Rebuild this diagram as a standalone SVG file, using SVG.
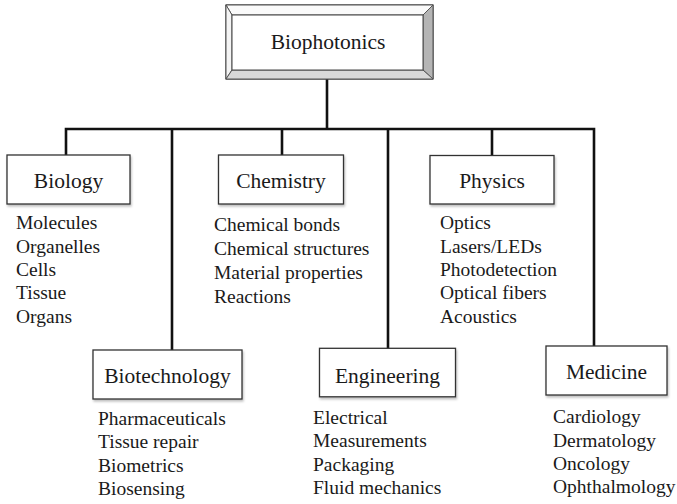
<svg xmlns="http://www.w3.org/2000/svg" width="677" height="504" viewBox="0 0 677 504">
<defs>
<filter id="sh" x="-10%" y="-10%" width="130%" height="140%">
<feDropShadow dx="1" dy="2" stdDeviation="1.2" flood-color="#000" flood-opacity="0.25"/>
</filter>
</defs>
<style>
text{font-family:'Liberation Serif','Times New Roman',serif;fill:#1a1a1a}
.lbl{font-size:21.5px;text-anchor:middle}
.item{font-size:19.5px}
.box{fill:#fff;stroke:#333;stroke-width:1.3}
.conn{stroke:#111;stroke-width:2.6;fill:none;stroke-linecap:square}
.bev{stroke:#555;stroke-width:1}
</style>
<rect width="677" height="504" fill="#fff"/>
<g id="connectors">
<path class="conn" d="M327 79 V129 M66 129 H594 M66 129 V155 M172 129 V350 M282 129 V155 M388 129 V348 M492 129 V155 M594 129 V346"/>
</g>
<g id="biophotonics">
<rect x="226" y="5" width="207" height="74" fill="#fff" stroke="#333" stroke-width="1.2"/>
<polygon class="bev" points="226,5 433,5 423,15 232,15" fill="#fafafa"/>
<polygon class="bev" points="226,5 232,15 232,70 226,79" fill="#f4f4f4"/>
<polygon class="bev" points="433,5 433,79 423,70 423,15" fill="#b5b5b5"/>
<polygon class="bev" points="226,79 433,79 423,70 232,70" fill="#d9d9d9"/>
<rect x="232" y="15" width="191" height="55" fill="#fff" stroke="#444" stroke-width="1"/>
<text class="lbl" x="328" y="49">Biophotonics</text>
</g>
<g id="biology">
<rect class="box" x="7" y="155" width="123" height="49" filter="url(#sh)"/>
<text class="lbl" x="68.5" y="187.5">Biology</text>
<text class="item" x="16" y="229.3">Molecules</text>
<text class="item" x="16" y="252.6">Organelles</text>
<text class="item" x="16" y="275.9">Cells</text>
<text class="item" x="16" y="299.2">Tissue</text>
<text class="item" x="16" y="322.5">Organs</text>
</g>
<g id="chemistry">
<rect class="box" x="218.5" y="155" width="125" height="49" filter="url(#sh)"/>
<text class="lbl" x="281" y="187.5">Chemistry</text>
<text class="item" x="214" y="231">Chemical bonds</text>
<text class="item" x="214" y="255">Chemical structures</text>
<text class="item" x="214" y="279">Material properties</text>
<text class="item" x="214" y="303">Reactions</text>
</g>
<g id="physics">
<rect class="box" x="430" y="155.5" width="124" height="48.5" filter="url(#sh)"/>
<text class="lbl" x="492" y="187.5">Physics</text>
<text class="item" x="440" y="229.4">Optics</text>
<text class="item" x="440" y="252.7">Lasers/LEDs</text>
<text class="item" x="440" y="276">Photodetection</text>
<text class="item" x="440" y="299.3">Optical fibers</text>
<text class="item" x="440" y="322.6">Acoustics</text>
</g>
<g id="biotechnology">
<rect class="box" x="93" y="350" width="149" height="49" filter="url(#sh)"/>
<text class="lbl" x="167.5" y="383">Biotechnology</text>
<text class="item" x="98" y="425">Pharmaceuticals</text>
<text class="item" x="98" y="448.3">Tissue repair</text>
<text class="item" x="98" y="471.6">Biometrics</text>
<text class="item" x="98" y="494.9">Biosensing</text>
</g>
<g id="engineering">
<rect class="box" x="319.5" y="348.3" width="136" height="48.5" filter="url(#sh)"/>
<text class="lbl" x="387.5" y="383">Engineering</text>
<text class="item" x="313" y="424">Electrical</text>
<text class="item" x="313" y="447.4">Measurements</text>
<text class="item" x="313" y="470.8">Packaging</text>
<text class="item" x="313" y="494.2">Fluid mechanics</text>
</g>
<g id="medicine">
<rect class="box" x="546" y="346" width="121" height="49" filter="url(#sh)"/>
<text class="lbl" x="606.5" y="378.5">Medicine</text>
<text class="item" x="553" y="423.3">Cardiology</text>
<text class="item" x="553" y="446.6">Dermatology</text>
<text class="item" x="553" y="469.9">Oncology</text>
<text class="item" x="553" y="493.2">Ophthalmology</text>
</g>
</svg>
